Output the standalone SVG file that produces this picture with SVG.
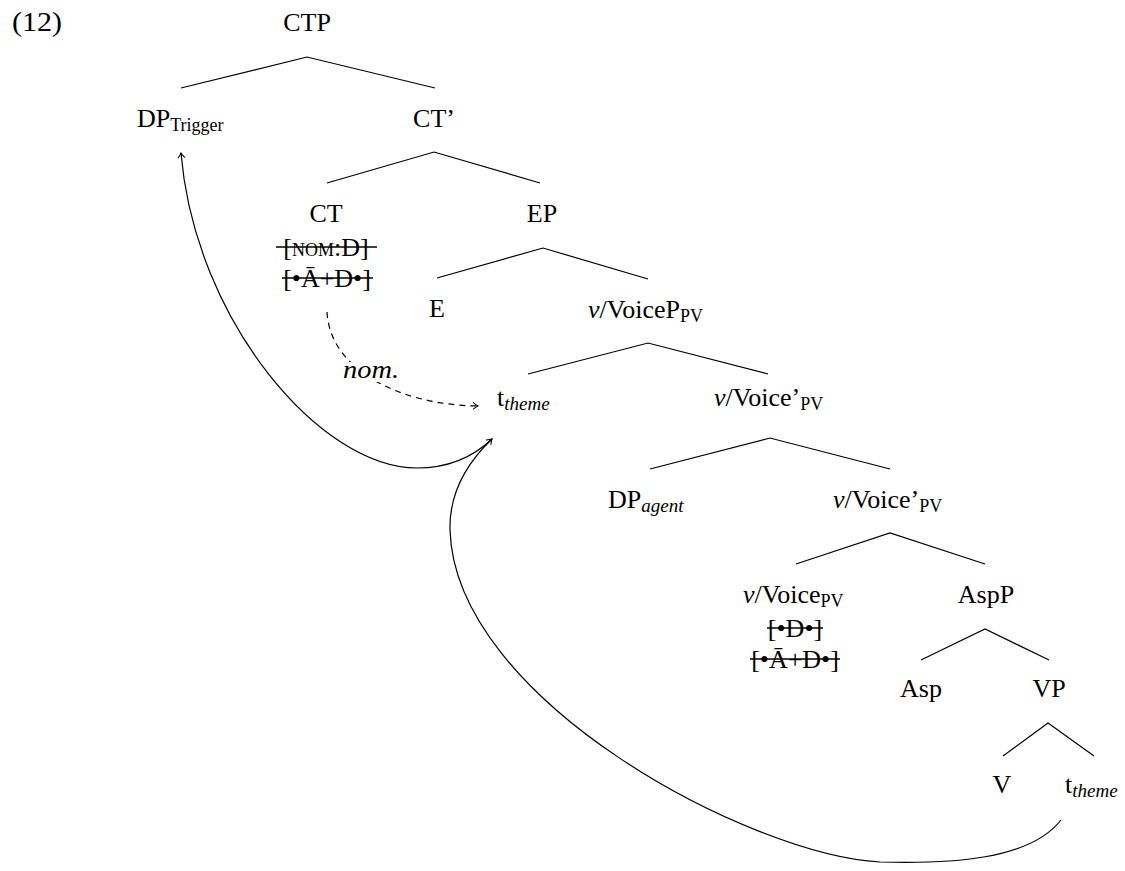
<svg xmlns="http://www.w3.org/2000/svg" width="1125" height="871" viewBox="0 0 1125 871" font-family="'Liberation Serif', 'DejaVu Serif', serif">
<defs>
<style>
text{font-family:'Liberation Serif','DejaVu Serif',serif;font-size:26px;fill:#000}
.m{text-anchor:middle}
.sub{font-size:18px}
.it{font-style:italic}
.e{stroke:#000;stroke-width:1.2;fill:none}
.strike{stroke:#000;stroke-width:1.3}
.lbl{stroke:#fff;stroke-width:8;paint-order:stroke}
</style>
<marker id="arr" viewBox="-6 -5 8 10" markerWidth="8" markerHeight="10" refX="0" refY="0" orient="auto" markerUnits="userSpaceOnUse">
<path d="M -5 -3.5 Q -1.5 -0.6 0 0 Q -1.5 0.6 -5 3.5" fill="none" stroke="#000" stroke-width="1"/>
</marker>
</defs>
<text x="12" y="31" style="font-size:27px" textLength="50" lengthAdjust="spacingAndGlyphs">(12)</text>
<g id="CTP"><text class="m" x="307" y="31">CTP</text></g>
<g id="DPTrigger"><text x="137" y="127">DP<tspan class="sub" dy="4">Trigger</tspan></text></g>
<g id="CTbar"><text class="m" x="434" y="127">CT’</text></g>
<g id="CT"><text class="m" x="326" y="222">CT</text>
<text class="m" x="326" y="256">[<tspan style="font-size:18px">NOM</tspan>:D]</text>
<text class="m" x="327" y="287">[•Ā+D•]</text>
<line class="strike" x1="276" y1="247" x2="377" y2="247"/>
<line class="strike" x1="282" y1="278" x2="373" y2="278"/></g>
<g id="EP"><text class="m" x="542" y="222">EP</text></g>
<g id="E"><text class="m" x="437" y="317">E</text></g>
<g id="VoiceP"><text x="588" y="318"><tspan class="it">v</tspan>/VoiceP<tspan class="sub" dy="4">PV</tspan></text></g>
<g id="tTheme1"><text x="497" y="406">t<tspan class="sub it" dy="4" style="font-size:19px">theme</tspan></text></g>
<g id="VoiceBar1"><text x="714" y="406"><tspan class="it">v</tspan>/Voice’<tspan class="sub" dy="4">PV</tspan></text></g>
<g id="DPagent"><text x="608" y="508">DP<tspan class="sub it" dy="4" style="font-size:19px">agent</tspan></text></g>
<g id="VoiceBar2"><text x="833" y="508"><tspan class="it">v</tspan>/Voice’<tspan class="sub" dy="4">PV</tspan></text></g>
<g id="Voice"><text x="743" y="603"><tspan class="it">v</tspan>/Voice<tspan class="sub" dy="4">PV</tspan></text>
<text class="m" x="795" y="637">[•D•]</text>
<text class="m" x="795" y="668">[•Ā+D•]</text>
<line class="strike" x1="767" y1="628" x2="823" y2="628"/>
<line class="strike" x1="750" y1="659" x2="840" y2="659"/></g>
<g id="AspP"><text class="m" x="986" y="603">AspP</text></g>
<g id="Asp"><text class="m" x="921" y="697">Asp</text></g>
<g id="VP"><text class="m" x="1049" y="697">VP</text></g>
<g id="V"><text class="m" x="1002" y="793">V</text></g>
<g id="tTheme2"><text x="1065" y="793">t<tspan class="sub it" dy="4" style="font-size:19px">theme</tspan></text></g>
<g id="connectors">
<path class="e" d="M181 88 L307 57 L435 88"/>
<path class="e" d="M327 183 L434 152 L540 183"/>
<path class="e" d="M437 278 L543 248 L648 279"/>
<path class="e" d="M528 374 L648 343 L768 374"/>
<path class="e" d="M650 469 L770 438 L890 469"/>
<path class="e" d="M796 564 L890 533 L985 564"/>
<path class="e" d="M921 660 L985 629 L1049 660"/>
<path class="e" d="M1003 756 L1048 723 L1094 756"/>
<path class="e" d="M327 312 C 330 370, 400 405, 478 406" stroke-dasharray="6 5" marker-end="url(#arr)"/>
<path class="e" d="M492 439 C 470 460, 445 468, 417 468 C 320 468, 195 320, 181 153" marker-end="url(#arr)"/>
<path class="e" d="M1061 820 C 1030 860, 950 864, 880 862 C 750 855, 455 700, 450 530 C 449 490, 470 460, 492 439" marker-end="url(#arr)"/>
<text class="it lbl" x="343" y="378" textLength="56" lengthAdjust="spacingAndGlyphs">nom.</text>
</g>
</svg>
